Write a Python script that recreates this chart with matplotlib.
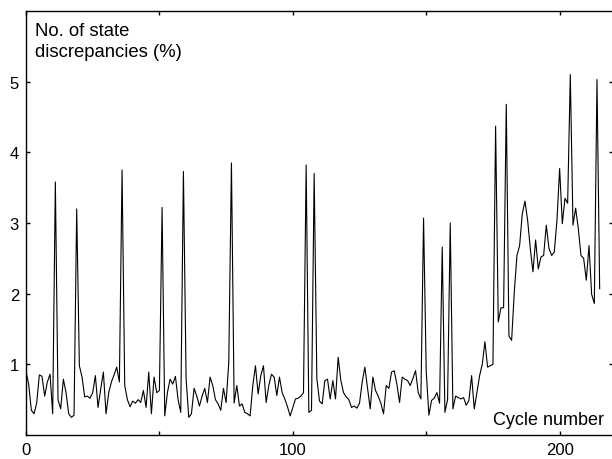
import matplotlib
matplotlib.use("Agg")
import matplotlib.pyplot as plt
import numpy as np

plt.rcParams['font.family'] = ['Liberation Sans', 'DejaVu Sans']

# discrepancies (%) per cycle
discrepancies = [
    0.90, 0.72, 0.35, 0.30, 0.45, 0.85, 0.83, 0.55, 0.75, 0.86,
    0.30, 3.58, 0.50, 0.37, 0.79, 0.60, 0.30, 0.25, 0.28, 3.20,
    0.98, 0.82, 0.54, 0.55, 0.52, 0.60, 0.84, 0.39, 0.65, 0.89,
    0.30, 0.60, 0.75, 0.85, 0.96, 0.75, 3.75, 0.70, 0.50, 0.40,
    0.48, 0.45, 0.50, 0.46, 0.63, 0.39, 0.89, 0.30, 0.82, 0.60,
    0.63, 3.22, 0.27, 0.60, 0.79, 0.72, 0.83, 0.50, 0.32, 3.73,
    0.80, 0.25, 0.30, 0.66, 0.55, 0.41, 0.55, 0.66, 0.46, 0.82,
    0.70, 0.50, 0.44, 0.35, 0.66, 0.46, 1.03, 3.85, 0.45, 0.70,
    0.41, 0.44, 0.32, 0.30, 0.27, 0.70, 0.98, 0.58, 0.84, 0.98,
    0.46, 0.70, 0.86, 0.82, 0.56, 0.82, 0.60, 0.51, 0.40, 0.27,
    0.39, 0.51, 0.52, 0.55, 0.60, 3.82, 0.32, 0.35, 3.70, 0.80,
    0.48, 0.44, 0.77, 0.79, 0.51, 0.77, 0.51, 1.10, 0.77, 0.60,
    0.54, 0.50, 0.39, 0.41, 0.38, 0.45, 0.75, 0.96, 0.66, 0.37,
    0.82, 0.63, 0.55, 0.45, 0.30, 0.70, 0.66, 0.89, 0.91, 0.72,
    0.46, 0.82, 0.79, 0.77, 0.70, 0.80, 0.91, 0.60, 0.51, 3.07,
    0.90, 0.28, 0.49, 0.52, 0.60, 0.45, 2.66, 0.32, 0.50, 3.00,
    0.37, 0.55, 0.53, 0.51, 0.53, 0.42, 0.49, 0.84, 0.37, 0.60,
    0.84, 1.00, 1.32, 0.96, 0.98, 1.00, 4.37, 1.60, 1.80, 1.80,
    4.68, 1.40, 1.34, 2.02, 2.54, 2.68, 3.13, 3.31, 3.04, 2.64,
    2.31, 2.76, 2.35, 2.52, 2.54, 2.97, 2.64, 2.54, 2.59, 3.04,
    3.77, 2.99, 3.35, 3.28, 5.10, 2.97, 3.21, 2.92, 2.54, 2.50,
    2.19, 2.68, 1.99, 1.86, 5.03, 2.07,
]
cycles = np.arange(len(discrepancies))

x_ticks = [0, 50, 100, 150, 200]
x_ticklabels = ['0', '', '100', '', '200']
y_ticks = [1, 2, 3, 4, 5]

fig = plt.figure(figsize=(6.12, 4.6), dpi=100)
ax = fig.add_axes([26 / 612, 24 / 460, 587 / 612, 424 / 460])

ax.plot(cycles, discrepancies, color='black', lw=0.8)

ax.set_xlim(0, 220)
ax.set_ylim(0, 6)
ax.set_xticks(x_ticks)
ax.set_xticklabels(x_ticklabels)
ax.set_yticks(y_ticks)
ax.tick_params(direction='in', length=3, width=1, top=True, right=True,
               labelsize=12, pad=5)
for s in ax.spines.values():
    s.set_linewidth(1.0)

# labels placed in pixel terms of the 612x460 picture
ax.text((35 - 26) / 587, (436 - 23) / 424,
        'No. of state\ndiscrepancies (%)', transform=ax.transAxes,
        ha='left', va='top', fontsize=13.3, linespacing=1.3)
ax.text((604 - 26) / 587, (436 - 425) / 424, 'Cycle number',
        transform=ax.transAxes, ha='right', va='baseline', fontsize=13)

fig.savefig('out.png', dpi=100)
